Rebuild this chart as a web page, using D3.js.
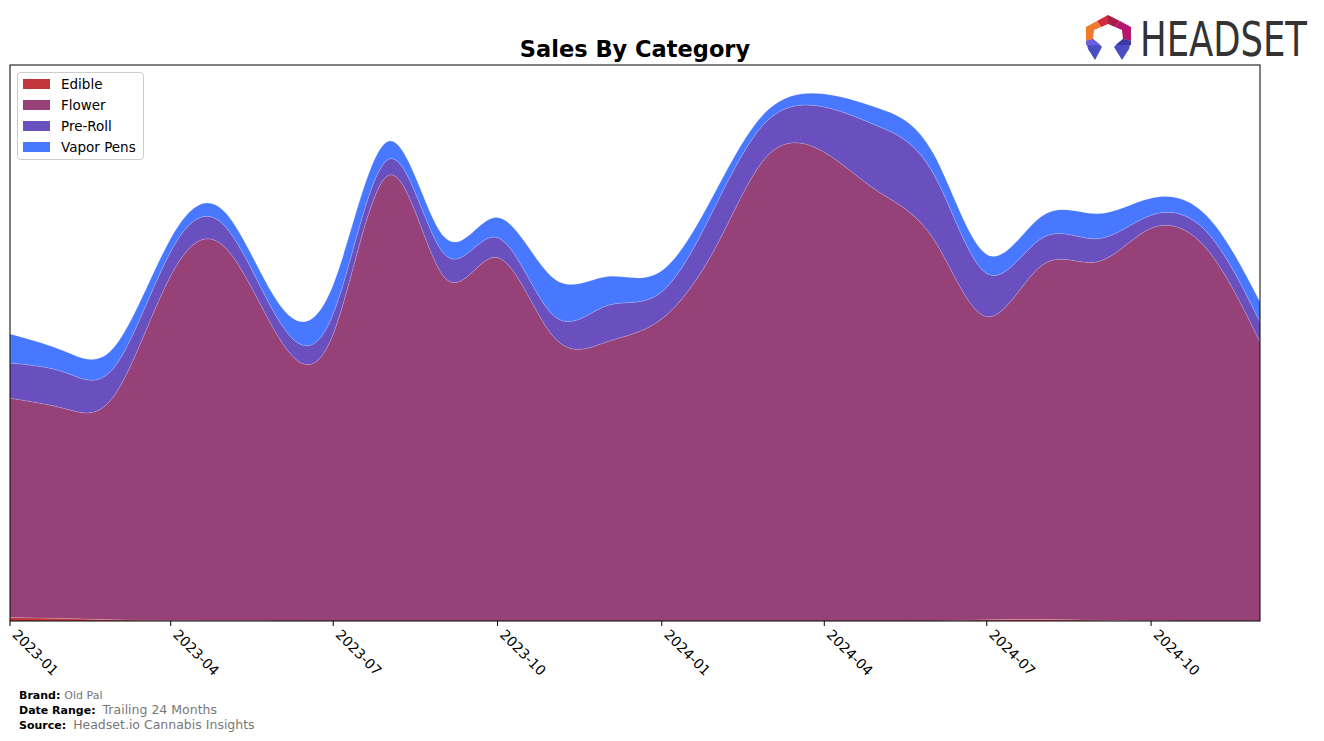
<!DOCTYPE html>
<html>
<head>
<meta charset="utf-8">
<script src="https://cdn.jsdelivr.net/npm/d3@7"></script>
<style>
  html, body { margin: 0; padding: 0; background: #fff; }
  svg { display: block; font-family: "DejaVu Sans", sans-serif; }
</style>
</head>
<body>
<svg id="chart" width="1324" height="741"></svg>
<script>
// ---- data ----
const months = ["2023-01","2023-02","2023-03","2023-04","2023-05","2023-06","2023-07","2023-08","2023-09","2023-10","2023-11","2023-12",
                "2024-01","2024-02","2024-03","2024-04","2024-05","2024-06","2024-07","2024-08","2024-09","2024-10","2024-11","2024-12"];
const edible    = [3.5,2.5,1.2,0.5,0.3,0.1,0,0,0,0,0,0, 0,0,0,0,0,0,1.2,1.5,0.8,0.2,0,0];
const flower    = [218.5,209,225,343.5,372.7,281,286,444,343,362,284,278, 301,375,465,467,428,381,302,353,357,391,371,278];
const preRoll   = [35,36,28,24,21,17,20,16,23,20,21,36, 27,42,35,45,65,65,43,27,23,13,17,20];
const vaporPens = [29,21,20,13,14,17,29,18,17,20,37,29, 21,14,10,13,18,20,19,22,25,17,16,20];
const categories = ["Edible","Flower","Pre-Roll","Vapor Pens"];
const colors = ["#c1353b","#964177","#6a4fbe","#4878ff"];
const tickLabels = ["2023-01","2023-04","2023-07","2023-10","2024-01","2024-04","2024-07","2024-10"];

// ---- layout ----
const svg = d3.select("#chart");
const L = 10, R = 1260, T = 65, B = 621;
const parse = d3.timeParse("%Y-%m");

const rows = months.map((m, i) => ({
  date: parse(m),
  "Edible": edible[i], "Flower": flower[i], "Pre-Roll": preRoll[i], "Vapor Pens": vaporPens[i]
}));
const stack = d3.stack().keys(categories);
const series = stack(rows);
const maxSum = d3.max(series[series.length - 1], d => d[1]);

const x = d3.scaleTime().domain([parse(months[0]), parse(months[months.length - 1])]).range([L, R]);
const y = d3.scaleLinear().domain([0, maxSum * 1.055]).range([B, T]);

svg.append("defs").append("clipPath").attr("id", "plotclip")
  .append("rect").attr("x", L).attr("y", T).attr("width", R - L).attr("height", B - T);

const area = d3.area()
  .x(d => x(d.data.date))
  .y0(d => y(Math.max(0, d[0])))
  .y1(d => y(d[1]))
  .curve(d3.curveNatural);

const g = svg.append("g").attr("clip-path", "url(#plotclip)");
g.selectAll("path.layer").data(series).join("path")
  .attr("class", "layer")
  .attr("d", area)
  .attr("fill", (d, i) => colors[i])
  .attr("stroke", "rgba(255,255,255,0.25)")
  .attr("stroke-width", 0.6);

// frame
svg.append("rect").attr("x", L).attr("y", T).attr("width", R - L).attr("height", B - T)
  .attr("fill", "none").attr("stroke", "#000").attr("stroke-width", 1);

// x axis
const tickDates = tickLabels.map(parse);
const xAxis = svg.append("g");
xAxis.selectAll("line").data(tickDates).join("line")
  .attr("x1", d => x(d)).attr("x2", d => x(d))
  .attr("y1", B).attr("y2", B + 5)
  .attr("stroke", "#000").attr("stroke-width", 1);
xAxis.selectAll("text").data(tickDates).join("text")
  .attr("transform", d => `translate(${x(d) + 5},${B + 11}) rotate(45)`)
  .attr("text-anchor", "start")
  .attr("dy", "0.35em")
  .attr("font-size", 13.9)
  .attr("fill", "#000")
  .text(d3.timeFormat("%Y-%m"));

// title
svg.append("text").attr("x", 635).attr("y", 57).attr("text-anchor", "middle")
  .attr("font-size", 22.5).attr("font-weight", "bold").text("Sales By Category");

// legend
const lg = svg.append("g");
lg.append("rect").attr("x", 17.5).attr("y", 72.5).attr("width", 126).attr("height", 87)
  .attr("rx", 3).attr("fill", "#fff").attr("fill-opacity", 0.8).attr("stroke", "#cccccc");
categories.forEach((c, i) => {
  const cy = 84 + i * 21;
  lg.append("rect").attr("x", 23).attr("y", cy - 5).attr("width", 27).attr("height", 10).attr("fill", colors[i]);
  lg.append("text").attr("x", 61).attr("y", cy).attr("dy", "0.36em").attr("font-size", 13.5).text(c);
});

// footer
const foot = [["Brand:", "Old Pal", 11, 4], ["Date Range:", "Trailing 24 Months", 12.5, 7], ["Source:", "Headset.io Cannabis Insights", 12.5, 7]];
foot.forEach((f, i) => {
  const t = svg.append("text").attr("x", 19).attr("y", 699 + i * 15);
  t.append("tspan").attr("font-weight", "bold").attr("font-size", 11).attr("fill", "#000").text(f[0]);
  t.append("tspan").attr("font-size", f[2]).attr("fill", "#777").attr("dx", f[3]).text(f[1]);
});

// logo
const logo = svg.append("g").attr("transform", "translate(1086,15)");
const polys = [
  {p: [[11,6],[22,0],[22,9],[15,12]], c: "#d42a3c"},
  {p: [[22,0],[34,6],[29,12],[22,9]], c: "#a8204a"},
  {p: [[34,6],[45,12],[45,26],[37,24],[36,15],[29,12]], c: "#b5176e"},
  {p: [[11,6],[15,12],[8,15],[7,24],[0,26],[0,12]], c: "#f07a2a"},
  {p: [[0,26],[7,24],[12,28],[16,32],[9,45],[2,34]], c: "#4a4ec2"},
  {p: [[45,26],[37,24],[32,28],[28,32],[36,45],[43,34]], c: "#4a4ec2"},
  {p: [[0,26],[7,24],[14,30],[0,30]], c: "#6a5fe0"},
  {p: [[45,26],[37,24],[30,30],[45,30]], c: "#3c3aa0"}
];
polys.forEach(o => logo.append("polygon").attr("points", o.p.map(d => d.join(",")).join(" ")).attr("fill", o.c));
svg.append("text").attr("transform", "translate(1140,56) scale(1,1.2)").attr("font-size", 40)
  .attr("font-family", "'DejaVu Sans Condensed', 'DejaVu Sans', sans-serif")
  .attr("font-stretch", "condensed")
  .attr("textLength", 167).attr("lengthAdjust", "spacingAndGlyphs")
  .attr("fill", "#333").text("HEADSET");
</script>
</body>
</html>
